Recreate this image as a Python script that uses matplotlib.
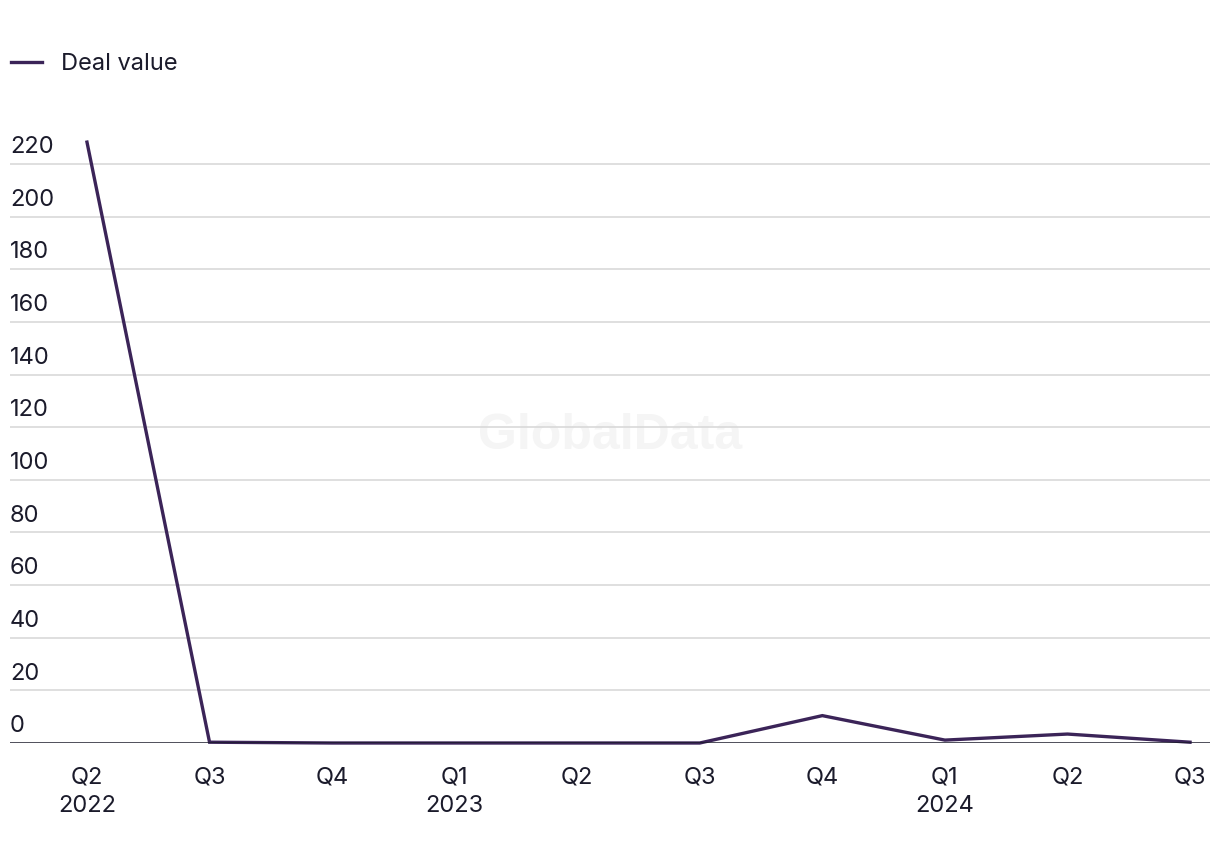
import matplotlib
matplotlib.use("Agg")
import matplotlib.pyplot as plt
import matplotlib.transforms as mtransforms

quarters = ["Q2", "Q3", "Q4", "Q1", "Q2", "Q3", "Q4", "Q1", "Q2", "Q3"]
years = ["2022", "", "", "2023", "", "", "", "2024", "", ""]
deal_value = [228.3, 0.3, 0.0, 0.0, 0.0, 0.0, 10.4, 1.1, 3.4, 0.3]
yticks = [0, 20, 40, 60, 80, 100, 120, 140, 160, 180, 200, 220]

plt.rcParams['font.family'] = ['Inter', 'DejaVu Sans']
W, H = 1220, 864
fig = plt.figure(figsize=(W / 100, H / 100), dpi=100)
ax = fig.add_axes([10 / W, (H - 743) / H, 1200 / W, (743 - 120) / H])

x = list(range(len(deal_value)))
ax.plot(x, deal_value, color="#3b2458", lw=2.4, solid_joinstyle="miter", zorder=3,
        clip_on=False, label="Deal value")

ax.set_xlim(-0.628, 9.163)
ax.set_ylim(0, 236.7)

for s in ax.spines.values():
    s.set_visible(False)
ax.axhline(0, color="#1b1b2b", lw=1.8, zorder=4)
for t in yticks[1:]:
    ax.axhline(t, color="#d9d9d9", lw=1.2, zorder=1)

ax.set_yticks([])
ax.set_xticks(x)
ax.set_xticklabels([q + ("\n" + y if y else "") for q, y in zip(quarters, years)],
                   fontsize=17, color="#1b1b2b", linespacing=1.4, va="top")
ax.tick_params(axis="x", length=0, pad=17)

trans = mtransforms.blended_transform_factory(ax.transAxes, ax.transData)
for t in yticks:
    ax.text(0, t + 2.2, str(t), transform=trans, ha="left", va="bottom",
            fontsize=17, color="#1b1b2b")

ax.text(0.5, 0.495, "GlobalData", transform=fig.transFigure, ha="center", va="center",
        fontsize=36, fontweight="bold", color="#f5f5f5", zorder=0,
        family=["Liberation Sans", "DejaVu Sans"])

leg = fig.legend(loc="upper left", bbox_to_anchor=(-10 / W, 1 - 32 / H), frameon=False,
                 fontsize=17, handlelength=1.3, handletextpad=0.8, labelcolor="#1b1b2b")

fig.savefig("out.png", dpi=100)
